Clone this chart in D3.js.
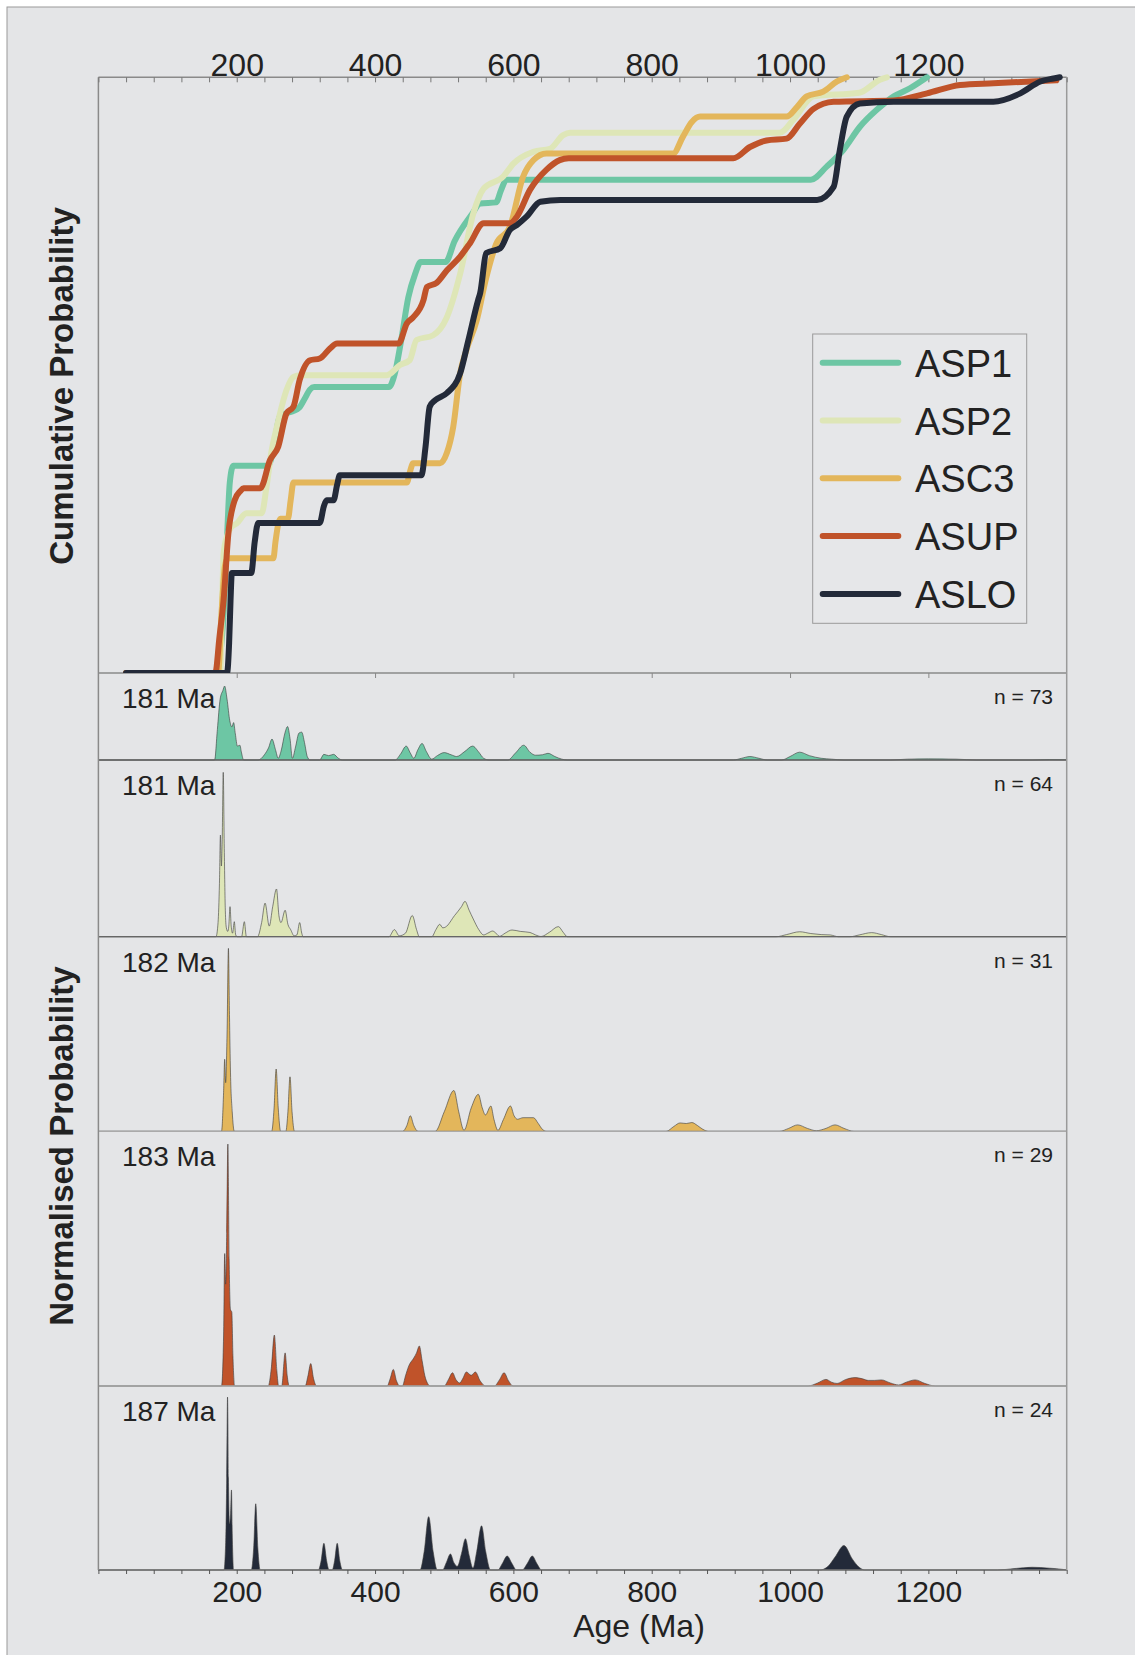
<!DOCTYPE html>
<html>
<head>
<meta charset="utf-8">
<script src="https://cdn.jsdelivr.net/npm/d3@7"></script>
<style>
  body { margin: 0; background: #fff; }
  svg { display: block; font-family: "Liberation Sans", Arial, sans-serif; }
</style>
</head>
<body>
<svg id="chart" width="1135" height="1655"></svg>
<script>
// ---- data (age in Ma) ----
const samples = ["ASP1", "ASP2", "ASC3", "ASUP", "ASLO"];
const youngest = ["181 Ma", "181 Ma", "182 Ma", "183 Ma", "187 Ma"];
const counts = [73, 64, 31, 29, 24];
const xTicks = [200, 400, 600, 800, 1000, 1200];

// cumulative probability curves [age, P]
const cumASP1 = [[40,0],[170,0],[180,0.08],[185,0.2],[190,0.32],[195,0.348],[245,0.348],[252,0.37],[258,0.41],[262,0.43],[290,0.445],[298,0.46],[306,0.476],[312,0.48],[420,0.48],[428,0.5],[438,0.56],[448,0.63],[458,0.67],[466,0.69],[502,0.69],[515,0.725],[540,0.77],[552,0.788],[575,0.79],[582,0.81],[590,0.828],[1030,0.828],[1053,0.85],[1077,0.878],[1101,0.917],[1125,0.945],[1150,0.968],[1174,0.982],[1198,1.0]];
const cumASP2 = [[40,0],[176,0],[179,0.12],[181,0.2],[186,0.23],[192,0.245],[200,0.251],[214,0.268],[236,0.268],[243,0.312],[250,0.37],[258,0.413],[272,0.475],[282,0.497],[292,0.5],[417,0.5],[436,0.517],[450,0.525],[460,0.559],[484,0.567],[503,0.595],[523,0.67],[542,0.771],[557,0.813],[585,0.833],[600,0.855],[629,0.875],[653,0.88],[672,0.903],[682,0.907],[985,0.907],[1005,0.929],[1034,0.968],[1100,0.974],[1130,0.996],[1140,1.0]];
const cumASC3 = [[40,0],[173,0],[178,0.1],[183,0.18],[187,0.1925],[253,0.1925],[256,0.22],[260,0.25],[263,0.259],[274,0.259],[278,0.29],[282,0.32],[446,0.32],[451,0.34],[455,0.352],[494,0.352],[504,0.37],[513,0.413],[523,0.503],[532,0.542],[547,0.592],[560,0.66],[575,0.72],[595,0.749],[614,0.833],[629,0.861],[648,0.872],[831,0.872],[845,0.9],[858,0.925],[870,0.934],[995,0.934],[1010,0.95],[1024,0.968],[1048,0.976],[1068,0.993],[1082,1.0]];
const cumASUP = [[40,0],[169,0],[175,0.06],[181,0.122],[188,0.235],[197,0.29],[205,0.305],[210,0.31],[234,0.31],[248,0.357],[260,0.38],[272,0.436],[282,0.447],[291,0.492],[306,0.525],[320,0.528],[335,0.545],[345,0.553],[434,0.553],[446,0.587],[455,0.597],[470,0.626],[475,0.648],[489,0.655],[504,0.676],[523,0.699],[537,0.721],[557,0.755],[595,0.755],[605,0.766],[624,0.811],[648,0.845],[667,0.861],[680,0.864],[918,0.864],[942,0.883],[966,0.894],[995,0.897],[1014,0.922],[1034,0.947],[1063,0.959],[1150,0.961],[1198,0.973],[1246,0.987],[1294,0.99],[1385,0.995]];
const cumASLO = [[40,0],[186,0],[189,0.05],[191,0.12],[193,0.168],[221,0.168],[226,0.22],[231,0.252],[320,0.252],[326,0.28],[330,0.29],[340,0.29],[345,0.315],[349,0.332],[467,0.332],[473,0.38],[479,0.447],[487,0.458],[504,0.47],[523,0.503],[535,0.559],[549,0.626],[552,0.638],[561,0.705],[581,0.713],[595,0.744],[605,0.752],[619,0.766],[639,0.791],[668,0.794],[1039,0.794],[1063,0.816],[1072,0.878],[1082,0.934],[1101,0.956],[1150,0.959],[1294,0.959],[1333,0.973],[1362,0.993],[1381,0.998],[1390,1.0]];

// normalised probability density [age, relative height]
const pdpASP1 = [[0,0],[168,0],[172,0.35],[176,0.7],[180,0.8],[182.5,0.85],[186,0.7],[190,0.45],[193,0.38],[195.5,0.43],[198,0.3],[201,0.16],[204.5,0.17],[207,0.08],[210,0],
  [231,0],[240,0.06],[246,0.14],[251,0.24],[256,0.12],[260,0.02],[264,0.1],[270,0.32],[273.5,0.385],[277,0.25],[280.5,0.02],[285,0.15],[290,0.31],[294,0.32],[298,0.2],[302,0.04],[306,0],
  [320,0],[326,0.065],[333,0.05],[340,0.065],[347,0.02],[353,0],
  [429,0],[437,0.07],[445,0.16],[451,0.08],[456,0.02],[462,0.12],[468,0.19],[474,0.1],[482,0.01],[490,0.05],[500,0.085],[510,0.06],[518,0.04],[530,0.1],[541,0.16],[550,0.09],[557,0.02],[565,0],
  [592,0],[603,0.08],[615,0.17],[624,0.09],[632,0.055],[642,0.06],[650,0.077],[660,0.04],[670,0.01],[678,0],
  [918,0],[930,0.02],[942,0.04],[955,0.02],[967,0],
  [988,0],[1000,0.04],[1014,0.09],[1028,0.05],[1045,0.02],[1060,0.01],[1078,0],
  [1145,0],[1170,0.01],[1200,0.013],[1240,0.01],[1270,0],[1350,0],[1375,0.005],[1400,0.003]];
const pdpASP2 = [[0,0],[170,0],[173,0.08],[175,0.3],[176.4,0.575],[177.8,0.4],[179,0.55],[180.5,0.93],[182,0.5],[183.5,0.15],[185,0.05],[187,0.03],[188.5,0.06],[190.3,0.17],[192,0.06],[194,0.02],[196.5,0.085],[198.5,0.01],[201,0],[207,0],[211,0.085],[214,0],
  [230,0],[236,0.08],[241,0.19],[247,0.06],[252,0.17],[257.5,0.27],[261,0.12],[264,0.08],[270,0.15],[274,0.07],[278,0.04],[283,0.005],[287,0.01],[291,0.08],[294,0.02],[296,0],
  [420,0],[428,0.04],[435,0.005],[444,0.02],[453.8,0.12],[460,0.04],[464,0],[482,0],[488,0.04],[493.5,0.07],[498,0.05],[502,0.055],[515,0.12],[525,0.17],[530,0.2],[536,0.15],[542,0.1],[550,0.04],[557,0.01],[563,0.02],[570,0.032],[576,0.015],[580,0.002],[588,0.02],[598,0.038],[610,0.03],[624,0.024],[632,0.01],[640,0.001],[652,0.025],[665,0.057],[672,0.025],[678,0],
  [980,0],[995,0.012],[1014,0.028],[1030,0.018],[1045,0.012],[1058,0.01],[1070,0],[1087,0],[1100,0.01],[1118,0.023],[1132,0.012],[1145,0],[1400,0]];
const pdpASC3 = [[0,0],[178,0],[181,0.2],[182.6,0.37],[184,0.25],[186,0.5],[188,0.94],[189.5,0.6],[191,0.3],[193.5,0.1],[196.5,0],
  [250.5,0],[254,0.12],[257,0.32],[260,0.12],[263.5,0],[271,0],[274,0.1],[277,0.28],[280,0.1],[283.5,0],
  [440,0],[446,0.03],[451,0.08],[456,0.03],[462,0],
  [487,0],[500,0.1],[514,0.21],[521,0.1],[528.6,0.005],[539,0.12],[549.3,0.19],[555,0.12],[559.6,0.084],[567.4,0.13],[572,0.06],[577.7,0.005],[585.5,0.06],[595.8,0.13],[601,0.08],[606,0.062],[614,0.07],[629,0.07],[636,0.04],[642,0.01],[648,0],
  [821,0],[832,0.025],[841,0.043],[850,0.04],[858,0.045],[866,0.03],[874,0.01],[882,0],
  [985,0],[998,0.015],[1011,0.033],[1025,0.015],[1038,0.003],[1052,0.015],[1065,0.033],[1078,0.015],[1092,0],[1400,0]];
const pdpASUP = [[0,0],[178,0],[181,0.2],[182.6,0.52],[184,0.4],[185.5,0.6],[187.2,0.95],[189,0.5],[191,0.3],[192.9,0.29],[194.5,0.12],[197,0],
  [245.5,0],[250,0.07],[254.4,0.2],[258,0.06],[260.6,0],[265,0],[270,0.13],[273,0.04],[276,0],[299,0],[303,0.04],[307,0.088],[311,0.03],[315.5,0],
  [417.5,0],[422,0.03],[426.4,0.065],[431,0.02],[436,0],
  [439.5,0],[444,0.04],[448.6,0.078],[456,0.11],[460,0.13],[464,0.157],[468,0.1],[472,0.04],[476,0.01],[480,0],
  [500,0],[506,0.025],[512,0.052],[517,0.025],[522.4,0.012],[527,0.03],[532,0.055],[539,0.042],[545,0.055],[552,0.02],[559.6,0],
  [572.5,0],[580,0.025],[586.5,0.052],[593,0.02],[599.5,0],
  [1026,0],[1040,0.012],[1052,0.026],[1060,0.015],[1068,0.01],[1080,0.025],[1094,0.033],[1105,0.028],[1113,0.022],[1122,0.022],[1132,0.024],[1145,0.012],[1157,0.004],[1168,0.015],[1181,0.024],[1195,0.01],[1210,0],[1400,0]];
const pdpASLO = [[0,0],[181.5,0],[184,0.15],[185.5,0.5],[186.7,0.94],[188,0.5],[189.5,0.25],[191,0.3],[192.4,0.435],[193.5,0.2],[195.5,0],
  [221,0],[224.5,0.12],[227.5,0.36],[230.5,0.12],[234,0],
  [318,0],[322,0.05],[326,0.145],[330,0.05],[333.5,0],[338,0],[341.5,0.05],[345.3,0.145],[349,0.05],[353,0],
  [465,0],[471,0.1],[477.5,0.29],[484,0.1],[490,0],
  [497.5,0],[503,0.04],[509,0.087],[514,0.04],[519,0.02],[525,0.09],[530.7,0.17],[536,0.08],[541.6,0.01],[547,0.1],[554,0.24],[560,0.1],[567,0],
  [577.5,0],[584,0.035],[591,0.076],[598,0.035],[604.5,0],[612.8,0],[620,0.035],[627.3,0.076],[634,0.035],[640.7,0],
  [1043,0],[1055,0.02],[1065,0.07],[1078,0.133],[1090,0.06],[1100,0.015],[1108,0],
  [1300,0],[1325,0.008],[1350,0.015],[1375,0.01],[1395,0.003],[1400,0]];

const cumData = [cumASP1, cumASP2, cumASC3, cumASUP, cumASLO];
const pdpData = [pdpASP1, pdpASP2, pdpASC3, pdpASUP, pdpASLO];
const colors = ["#6dc6a4", "#dee6b7", "#e3b65b", "#c0532a", "#232a39"];

// ---- layout ----
const left = 98.4, right = 1066.7, cumTop = 77.3, cumBottom = 673;
const panelEdges = [673, 760, 936.7, 1131.3, 1386, 1570];
const baseColors = ["#666", "#666", "#aaa", "#aaa", "#777"];
const textColor = "#222";
const fmt = d3.format('d');

const svg = d3.select('#chart');

svg.append('rect')
  .attr('x', 7).attr('y', 7)
  .attr('width', 1200).attr('height', 1700)
  .attr('fill', '#e4e5e7')
  .attr('stroke', '#9a9a9a');

const x = d3.scaleLinear().domain([0, 1400]).range([left, right]);
const yCum = d3.scaleLinear().domain([0, 1]).range([cumBottom, cumTop]);

// density panels
pdpData.forEach((d, i) => {
  const top = panelEdges[i], base = panelEdges[i + 1];
  const y = d3.scaleLinear().domain([0, 1]).range([base, top]);
  const area = d3.area()
    .x(p => x(p[0]))
    .y0(base)
    .y1(p => y(p[1]))
    .curve(d3.curveMonotoneX);
  svg.append('path')
    .datum(d)
    .attr('d', area)
    .attr('fill', colors[i])
    .attr('stroke', '#3b3b3b')
    .attr('stroke-width', 0.6);

  svg.append('line')
    .attr('x1', left).attr('x2', right)
    .attr('y1', base).attr('y2', base)
    .attr('stroke', baseColors[i])
    .attr('stroke-width', 1.3);

  svg.append('text')
    .attr('x', 122).attr('y', top + 35)
    .attr('font-size', 28)
    .attr('fill', textColor)
    .text(youngest[i]);

  svg.append('text')
    .attr('x', 1053).attr('y', top + 31)
    .attr('text-anchor', 'end')
    .attr('font-size', 21)
    .attr('fill', textColor)
    .text(`n = ${counts[i]}`);
});

// cumulative frame
svg.append('line').attr('x1', left).attr('x2', right).attr('y1', cumTop).attr('y2', cumTop)
  .attr('stroke', '#8a8a8a').attr('stroke-width', 1.5);
svg.append('line').attr('x1', left).attr('x2', right).attr('y1', cumBottom).attr('y2', cumBottom)
  .attr('stroke', '#8a8a8a').attr('stroke-width', 1.5);
svg.append('line').attr('x1', left).attr('x2', left).attr('y1', cumTop).attr('y2', panelEdges[5])
  .attr('stroke', '#8a8a8a').attr('stroke-width', 1.5);
svg.append('line').attr('x1', right).attr('x2', right).attr('y1', cumTop).attr('y2', panelEdges[5])
  .attr('stroke', '#9a9a9a').attr('stroke-width', 1.5);

// top axis: minor ticks pointing inward, labels above
const minorTicks = d3.range(0, 1401, 40);
svg.append('g')
  .attr('transform', `translate(0,${cumTop})`)
  .call(d3.axisBottom(x).tickValues(minorTicks).tickSize(5))
  .call(g => g.select('.domain').remove())
  .call(g => g.selectAll('text').remove())
  .call(g => g.selectAll('line').attr('stroke', '#777'));
svg.append('g')
  .attr('transform', `translate(0,${cumTop})`)
  .call(d3.axisTop(x).tickValues(xTicks).tickSize(0).tickPadding(1).tickFormat(fmt))
  .attr('font-family', null).attr('font-size', null)
  .call(g => g.select('.domain').remove())
  .call(g => g.selectAll('text').attr('font-size', 32).attr('fill', textColor));

// ticks under cumulative plot
svg.append('g')
  .attr('transform', `translate(0,${cumBottom})`)
  .call(d3.axisBottom(x).tickValues(xTicks).tickSize(5))
  .call(g => g.select('.domain').remove())
  .call(g => g.selectAll('text').remove())
  .call(g => g.selectAll('line').attr('stroke', '#888'));

// bottom axis
svg.append('g')
  .attr('transform', `translate(0,${panelEdges[5]})`)
  .call(d3.axisBottom(x).tickValues(minorTicks).tickSize(4))
  .call(g => g.select('.domain').remove())
  .call(g => g.selectAll('text').remove())
  .call(g => g.selectAll('line').attr('stroke', '#555'));
svg.append('g')
  .attr('transform', `translate(0,${panelEdges[5]})`)
  .call(d3.axisBottom(x).tickValues(xTicks).tickSize(0).tickPadding(11).tickFormat(fmt))
  .attr('font-family', null).attr('font-size', null)
  .call(g => g.select('.domain').remove())
  .call(g => g.selectAll('text').attr('font-size', 30).attr('fill', textColor));

svg.append('text')
  .attr('x', 639).attr('y', 1637)
  .attr('text-anchor', 'middle')
  .attr('font-size', 32)
  .attr('fill', textColor)
  .text('Age (Ma)');

// axis titles
svg.append('text')
  .attr('transform', 'translate(73,386) rotate(-90)')
  .attr('text-anchor', 'middle')
  .attr('font-size', 33).attr('font-weight', 'bold')
  .attr('fill', textColor)
  .text('Cumulative Probability');
svg.append('text')
  .attr('transform', 'translate(73,1146) rotate(-90)')
  .attr('text-anchor', 'middle')
  .attr('font-size', 33).attr('font-weight', 'bold')
  .attr('fill', textColor)
  .text('Normalised Probability');

// cumulative curves
svg.append('clipPath').attr('id', 'cumClip')
  .append('rect')
  .attr('x', left - 4).attr('y', cumTop - 8)
  .attr('width', right - left + 8).attr('height', cumBottom - cumTop + 8);

const line = d3.line()
  .x(p => x(p[0]))
  .y(p => yCum(p[1]))
  .curve(d3.curveMonotoneX);

const curves = svg.append('g').attr('clip-path', 'url(#cumClip)');
cumData.forEach((d, i) => {
  curves.append('path')
    .datum(d)
    .attr('d', line)
    .attr('fill', 'none')
    .attr('stroke', colors[i])
    .attr('stroke-width', 6)
    .attr('stroke-linecap', 'round')
    .attr('stroke-linejoin', 'round');
});

// legend
const legend = svg.append('g');
legend.append('rect')
  .attr('x', 812.7).attr('y', 334)
  .attr('width', 214).attr('height', 289.3)
  .attr('fill', '#e6e7e9')
  .attr('stroke', '#9a9a9a');
samples.forEach((s, i) => {
  const cy = 362.7 + i * 57.8;
  legend.append('line')
    .attr('x1', 822.7).attr('x2', 898.3)
    .attr('y1', cy).attr('y2', cy)
    .attr('stroke', colors[i])
    .attr('stroke-width', 6)
    .attr('stroke-linecap', 'round');
  legend.append('text')
    .attr('x', 915).attr('y', cy + 14)
    .attr('font-size', 38)
    .attr('fill', textColor)
    .text(s);
});
</script>
</body>
</html>
